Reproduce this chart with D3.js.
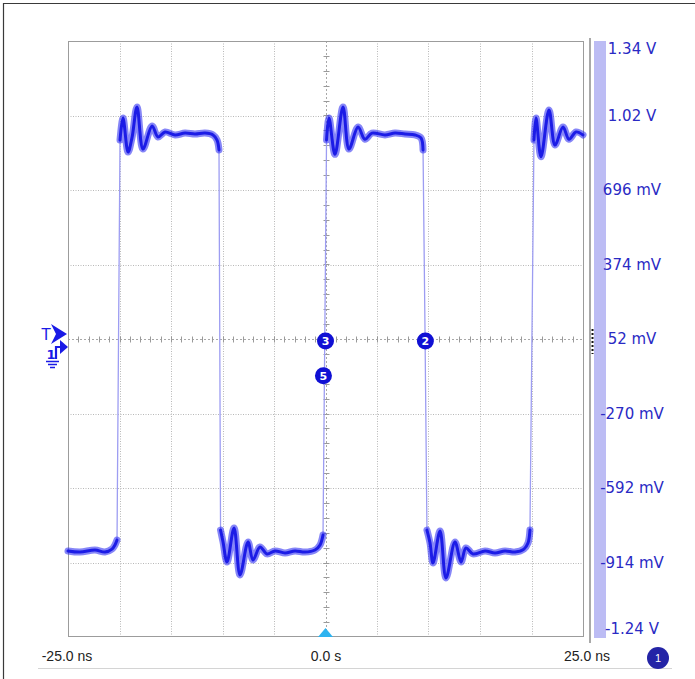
<!DOCTYPE html>
<html>
<head>
<meta charset="utf-8">
<script src="https://cdn.jsdelivr.net/npm/d3@7"></script>
<style>
  html, body { margin: 0; padding: 0; background: #fff; }
  svg { display: block; }
</style>
</head>
<body>
<svg id="chart" width="695" height="679"></svg>
<script>
// ---- data ----
const timeDomain = [-25, 25];                 // ns
const voltDomain = [-1.236, 1.34];            // V
const voltTicks = [1.34, 1.018, 0.696, 0.374, 0.052, -0.270, -0.592, -0.914, -1.236];
const voltLabels = ["1.34 V", "1.02 V", "696 mV", "374 mV", "52 mV", "-270 mV", "-592 mV", "-914 mV", "-1.24 V"];
const timeTicks = [-25, 0, 25];
const timeLabels = ["-25.0 ns", "0.0 s", "25.0 ns"];
const gridTimes = [-20, -15, -10, -5, 0, 5, 10, 15, 20];

// trace samples: time (ns) and voltage (V)
const traceTime = [
  -25.0, -23.83, -22.38, -21.41, -20.73, -20.44,
  -20.24, -19.95, -19.66, -19.17, -18.79, -18.30, -17.72, -16.84, -16.26, -15.58, -14.61, -13.64, -12.67, -11.70, -10.92, -10.53,
  -10.34, -10.19, -9.95, -9.56, -8.88, -8.30, -7.52, -7.04, -6.36, -5.68, -4.90, -3.93, -2.96, -1.99, -1.02, -0.53,
  -0.24, 0.10, 0.34, 0.92, 1.70, 2.28, 3.16, 3.83, 4.51, 5.78, 6.75, 7.72, 8.69, 9.27,
  9.47, 9.66, 9.85, 10.15, 10.44, 11.12, 11.70, 12.57, 13.16, 13.64, 14.32, 15.49, 16.46, 17.43, 18.40, 19.27, 19.66,
  19.85, 20.24, 20.44, 20.92, 21.70, 22.28, 23.06, 23.64, 24.32, 25.0
];
const traceVolt = [
  -0.864, -0.869, -0.860, -0.869, -0.856, -0.838,
  -0.817, 0.912, 1.007, 0.860, 0.921, 1.055, 0.873, 0.973, 0.925, 0.947, 0.934, 0.942, 0.938, 0.942, 0.934, 0.912,
  0.869, -0.774, -0.825, -0.912, -0.765, -0.968, -0.825, -0.903, -0.847, -0.877, -0.864, -0.873, -0.864, -0.869, -0.860, -0.838,
  -0.795, 0.912, 1.007, 0.850, 1.055, 0.873, 0.968, 0.915, 0.942, 0.934, 0.942, 0.938, 0.934, 0.921,
  0.869, 0.091, -0.774, -0.830, -0.916, -0.778, -0.981, -0.825, -0.912, -0.851, -0.877, -0.864, -0.873, -0.864, -0.869, -0.856, -0.830,
  -0.774, 0.912, 1.007, 0.840, 1.042, 0.890, 0.968, 0.915, 0.947, 0.934
];

// markers on the screen
const markerLabels = ["3", "5", "2"];
const markerTimes = [0.0, -0.2, 9.7];
const markerVolts = [0.043, -0.107, 0.043];

// ---- drawing ----
const svg = d3.select("#chart");
const pLeft = 68, pRight = 583, pTop = 41, pBottom = 637;
const x = d3.scaleLinear().domain(timeDomain).range([pLeft, pRight]);
const y = d3.scaleLinear().domain(voltDomain).range([pBottom, pTop]);

// outer frame (top + left edges)
svg.append("path").attr("d", "M3.5,679 V3.5 H695").attr("fill", "none").attr("stroke", "#3a3a3a").attr("stroke-width", 1.2);

// grid
const g = svg.append("g");
g.selectAll(".vg").data(gridTimes.filter(t => t !== 0)).enter().append("line")
  .attr("x1", d => Math.round(x(d)) + 0.5).attr("x2", d => Math.round(x(d)) + 0.5)
  .attr("y1", pTop).attr("y2", pBottom)
  .attr("stroke", "#b8b8b8").attr("stroke-dasharray", "1,1.5");
g.selectAll(".hg").data(voltTicks.slice(1, -1).filter(v => v !== 0.052)).enter().append("line")
  .attr("y1", d => Math.round(y(d)) + 0.5).attr("y2", d => Math.round(y(d)) + 0.5)
  .attr("x1", pLeft).attr("x2", pRight)
  .attr("stroke", "#b8b8b8").attr("stroke-dasharray", "1,1.5");

// center axes with minor ticks
const cx = Math.round(x(0)) + 0.5, cy = Math.round(y(0.052)) + 0.5;
g.append("line").attr("x1", cx).attr("x2", cx).attr("y1", pTop).attr("y2", pBottom)
  .attr("stroke", "#a8a8a8").attr("stroke-dasharray", "2,2");
g.append("line").attr("y1", cy).attr("y2", cy).attr("x1", pLeft).attr("x2", pRight)
  .attr("stroke", "#a8a8a8").attr("stroke-dasharray", "2,2");
const minorT = d3.range(-25, 25.01, 1).filter(t => t > -25 && t < 25);
g.selectAll(".mt").data(minorT).enter().append("line")
  .attr("x1", d => Math.round(x(d)) + 0.5).attr("x2", d => Math.round(x(d)) + 0.5)
  .attr("y1", cy - 3).attr("y2", cy + 3).attr("stroke", "#9a9a9a");
const vStep = (voltTicks[0] - voltTicks[1]) / 5;
const minorV = d3.range(1, 40).map(i => voltDomain[0] + i * vStep);
g.selectAll(".mv").data(minorV).enter().append("line")
  .attr("y1", d => Math.round(y(d)) + 0.5).attr("y2", d => Math.round(y(d)) + 0.5)
  .attr("x1", cx - 3).attr("x2", cx + 3).attr("stroke", "#9a9a9a");

// plot border
svg.append("rect").attr("x", pLeft + 0.5).attr("y", pTop + 0.5)
  .attr("width", pRight - pLeft).attr("height", pBottom - pTop - 1)
  .attr("fill", "none").attr("stroke", "#9c9c9c");

// right gray rail and lavender bar
svg.append("rect").attr("x", 589).attr("y", 38).attr("width", 2).attr("height", 605).attr("fill", "#a9a9a9");
svg.append("rect").attr("x", 594).attr("y", 41).attr("width", 12).attr("height", 597).attr("fill", "#bcbcf4");
svg.append("line").attr("x1", 592.5).attr("x2", 592.5).attr("y1", 329).attr("y2", 354)
  .attr("stroke", "#111").attr("stroke-width", 2).attr("stroke-dasharray", "2,2");

// trace
const pts = traceTime.map((t, i) => [t, traceVolt[i]]);
const line = d3.line().x(d => x(d[0])).y(d => y(d[1]));
const smooth = d3.line().x(d => x(d[0])).y(d => y(d[1])).curve(d3.curveCatmullRom.alpha(0.5));
svg.append("path").attr("d", line(pts)).attr("fill", "none")
  .attr("stroke", "#9d9df2").attr("stroke-width", 1.3);
// slow segments (dense, darker)
const slow = [];
let cur = [];
for (let i = 1; i < pts.length; i++) {
  const s = Math.abs(pts[i][1] - pts[i - 1][1]) / (pts[i][0] - pts[i - 1][0]);
  if (s < 2) {
    if (cur.length === 0) cur.push(pts[i - 1]);
    cur.push(pts[i]);
  } else if (cur.length) { slow.push(cur); cur = []; }
}
if (cur.length) slow.push(cur);
const tr = svg.append("g");
tr.selectAll(".halo").data(slow).enter().append("path").attr("d", smooth)
  .attr("fill", "none").attr("stroke", "#3636f2").attr("stroke-opacity", 0.6)
  .attr("stroke-width", 7).attr("stroke-linejoin", "round").attr("stroke-linecap", "round");
tr.selectAll(".core").data(slow).enter().append("path").attr("d", smooth)
  .attr("fill", "none").attr("stroke", "#1c1ce6")
  .attr("stroke-width", 3).attr("stroke-linejoin", "round").attr("stroke-linecap", "round");

// voltage axis labels
const ya = d3.axisRight(y).tickValues(voltTicks).tickSize(0)
  .tickFormat((d, i) => voltLabels[i]);
const yg = svg.append("g").attr("transform", "translate(632,0)").call(ya);
yg.select(".domain").remove();
yg.selectAll("text").attr("x", 0).attr("text-anchor", "middle")
  .attr("fill", "#2a2ac4").style("font-family", "'DejaVu Sans', Verdana, sans-serif").style("font-size", "15px");
yg.selectAll(".tick").filter(d => d === voltTicks[0]).select("text").attr("dy", "0.85em");
yg.selectAll(".tick").filter(d => d === voltTicks[voltTicks.length - 1]).select("text").attr("dy", "-0.25em");

// time axis labels
const xa = d3.axisBottom(x).tickValues(timeTicks).tickSize(0)
  .tickFormat((d, i) => timeLabels[i]);
const xg = svg.append("g").attr("transform", "translate(0,651)").call(xa);
xg.select(".domain").remove();
xg.selectAll("text").attr("fill", "#222").attr("y", 0).attr("dy", "0.71em")
  .style("font-family", "'Liberation Sans', Arial, sans-serif").style("font-size", "14px");
xg.selectAll(".tick").filter(d => d === 25).attr("transform", "translate(" + (x(25) + 4) + ",0)");
xg.selectAll(".tick").filter(d => d === -25).attr("transform", "translate(" + (x(-25) - 1) + ",0)");

svg.append("line").attr("x1", 38).attr("x2", 672).attr("y1", 668.5).attr("y2", 668.5).attr("stroke", "#d4d4d4");

// channel badge
svg.append("circle").attr("cx", 658).attr("cy", 658).attr("r", 11).attr("fill", "#2424a6");
svg.append("text").attr("x", 658).attr("y", 662).attr("text-anchor", "middle").attr("fill", "#fff")
  .style("font-family", "'Liberation Sans', Arial, sans-serif").style("font-size", "11px").text("1");

// trigger position marker (bottom)
svg.append("path").attr("d", `M${x(0)},628 L${x(0) + 7.5},637 L${x(0) - 7.5},637 Z`).attr("fill", "#2db3f0");

// markers
const mg = svg.append("g");
markerLabels.forEach((lab, i) => {
  const mx = x(markerTimes[i]), my = y(markerVolts[i]);
  mg.append("circle").attr("cx", mx).attr("cy", my).attr("r", 8.5).attr("fill", "#1010d4");
  mg.append("text").attr("x", mx).attr("y", my + 4).attr("text-anchor", "middle").attr("fill", "#fff")
    .style("font-family", "'DejaVu Sans', Verdana, sans-serif").style("font-size", "11px").style("font-weight", "bold").text(lab);
});

// trigger level marker (left)
const blue = "#1a1ae6";
svg.append("text").attr("x", 46).attr("y", 340).attr("text-anchor", "middle").attr("fill", blue)
  .style("font-family", "'DejaVu Sans', Verdana, sans-serif").style("font-size", "15px").text("T");
svg.append("path").attr("d", "M51,324 L67,334 L51,344 L56,334 Z").attr("fill", blue);
svg.append("text").attr("x", 51).attr("y", 359).attr("text-anchor", "middle").attr("fill", blue)
  .style("font-family", "'DejaVu Sans', Verdana, sans-serif").style("font-size", "13px").style("font-weight", "bold").text("1");
svg.append("path").attr("d", "M56,359 V347 H61").attr("fill", "none").attr("stroke", blue).attr("stroke-width", 2.2);
svg.append("path").attr("d", "M60,340 L68,347 L60,354 Z").attr("fill", blue);
svg.append("path").attr("d", "M46,361.5 H59 M48,364.5 H57 M50,367.5 H55").attr("stroke", blue).attr("stroke-width", 1.6);
</script>
</body>
</html>
